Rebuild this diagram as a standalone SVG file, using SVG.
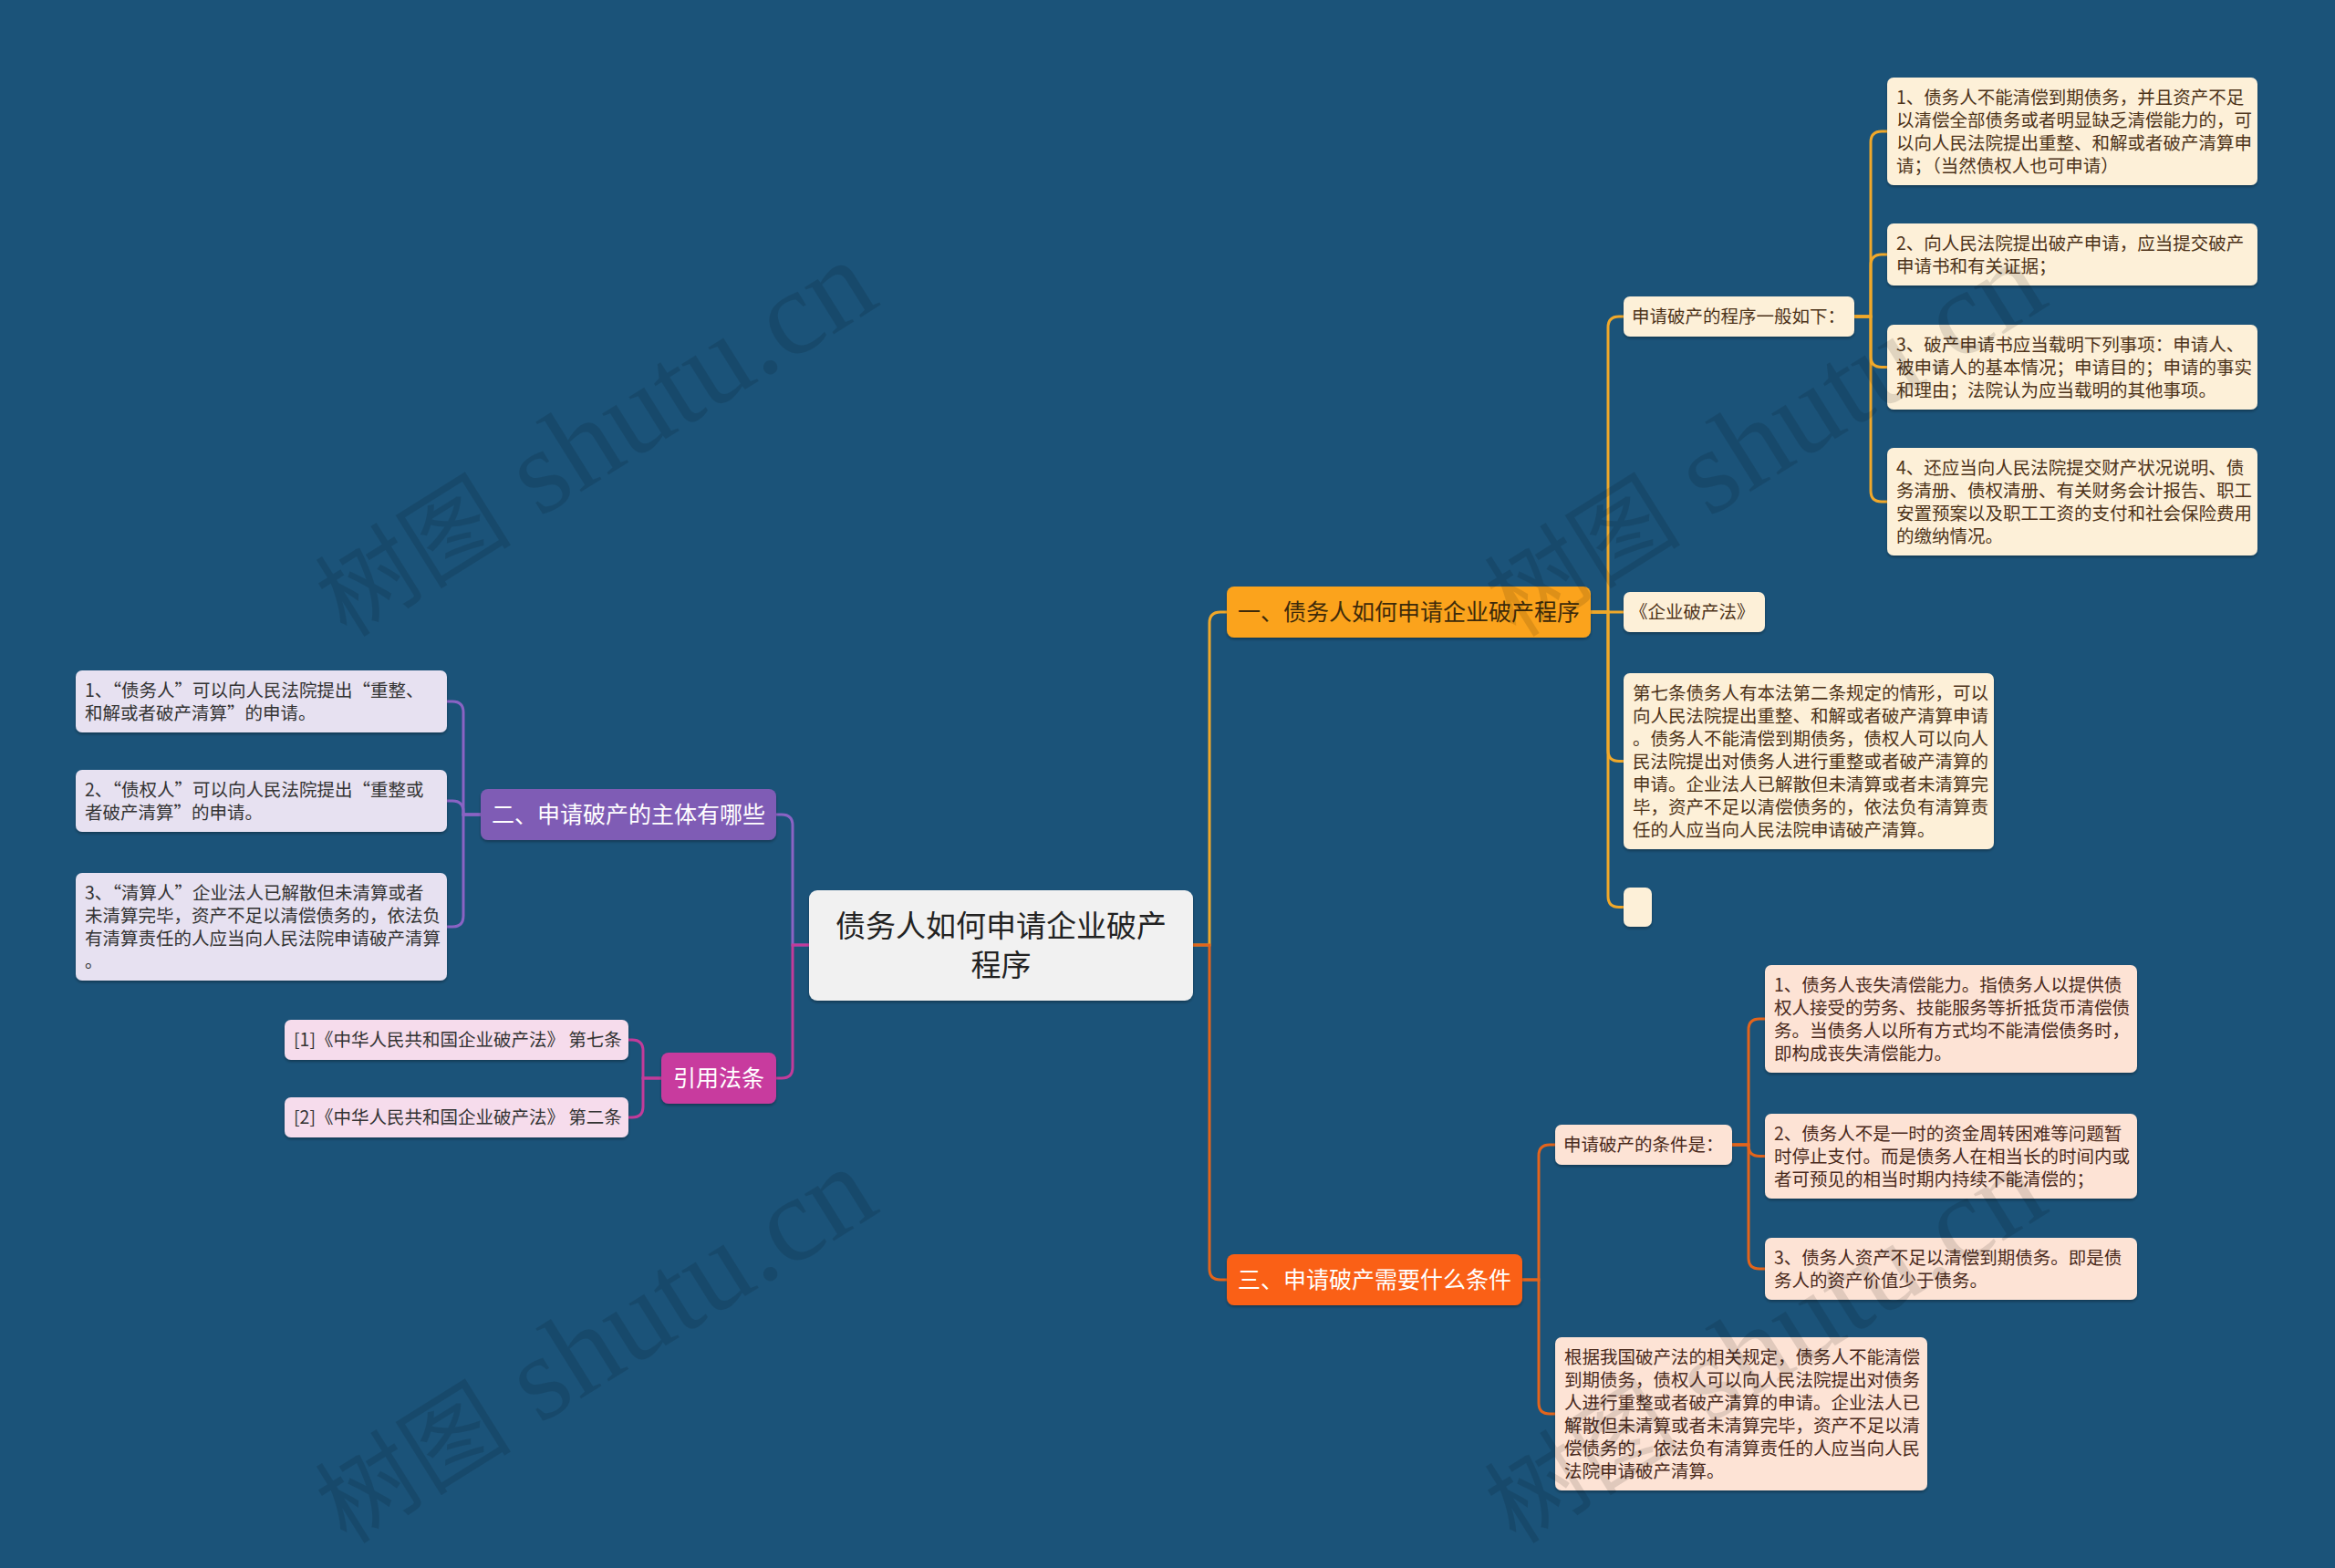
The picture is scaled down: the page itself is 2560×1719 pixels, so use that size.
<svg xmlns="http://www.w3.org/2000/svg" width="2560" height="1719" viewBox="0 0 2560 1719">
<defs>
<filter id="sh" x="-5%" y="-10%" width="110%" height="130%"><feDropShadow dx="0" dy="2" stdDeviation="1.5" flood-color="#000" flood-opacity="0.3"/></filter>
</defs>
<style>
text{font-family:"Noto Sans CJK SC","Noto Sans",sans-serif;}
.s{font-size:19.5px;}
.b{font-size:25px;}
.c{font-size:33px;fill:#222;}
.cream{fill:#fdf0d8;}
.peach{fill:#fde3d5;}
.lav{fill:#e7e1f1;}
.pink{fill:#f6dcec;}
.tb{fill:#4d3319;}
.tp{fill:#4a2a1c;}
.td{fill:#333;}
.w{fill:#fff;}
.ln{fill:none;stroke-width:3;}
.wm{font-family:"Liberation Serif","DejaVu Serif","Noto Sans CJK SC",serif;fill:#000;opacity:0.11;}
.wc{font-size:108px;}
.wl{font-size:132px;}
</style>
<rect width="2560" height="1719" fill="#1b5379"/>

<g id="connectors">
<g class="ln" stroke="#f0a82a">
<path d="M1308 1036 H1326 V683 Q1326 671 1338 671 H1345"/>
<path d="M1744 671 H1763 V359 Q1763 347 1775 347 H1780"/>
<path d="M1744 671 H1780"/>
<path d="M1744 671 H1763 V822.5 Q1763 834.5 1775 834.5 H1780"/>
<path d="M1744 671 H1763 V982.5 Q1763 994.5 1775 994.5 H1780"/>
<path d="M2033 347 H2051 V156 Q2051 144 2063 144 H2069"/>
<path d="M2033 347 H2051 V291 Q2051 279 2063 279 H2069"/>
<path d="M2033 347 H2051 V390.5 Q2051 402.5 2063 402.5 H2069"/>
<path d="M2033 347 H2051 V538 Q2051 550 2063 550 H2069"/>
</g>
<g class="ln" stroke="#e2641c">
<path d="M1308 1036 H1326 V1391 Q1326 1403 1338 1403 H1345"/>
<path d="M1669 1403 H1687 V1267 Q1687 1255 1699 1255 H1705"/>
<path d="M1669 1403 H1687 V1538 Q1687 1550 1699 1550 H1705"/>
<path d="M1899 1255 H1917 V1129 Q1917 1117 1929 1117 H1935"/>
<path d="M1899 1255 H1917 V1255.5 Q1917 1267.5 1929 1267.5 H1935"/>
<path d="M1899 1255 H1917 V1379 Q1917 1391 1929 1391 H1935"/>
</g>
<g class="ln" stroke="#8a63c4">
<path d="M887 1036 H869 V905 Q869 893 857 893 H851"/>
<path d="M527 893 H508 V781 Q508 769 496 769 H490"/>
<path d="M527 893 H508 V890 Q508 878 496 878 H490"/>
<path d="M527 893 H508 V1004 Q508 1016 496 1016 H490"/>
</g>
<g class="ln" stroke="#c23b9a">
<path d="M887 1036 H869 V1170 Q869 1182 857 1182 H851"/>
<path d="M725 1182 H705 V1152 Q705 1140 693 1140 H689"/>
<path d="M725 1182 H705 V1213 Q705 1225 693 1225 H689"/>
</g>
</g>

<g id="root">
<rect x="887" y="976" width="421" height="121" rx="9" fill="#f1f1f1" filter="url(#sh)"/>
<text class="c" text-anchor="middle"><tspan x="1097.5" y="1027">债务人如何申请企业破产</tspan><tspan x="1097.5" y="1070">程序</tspan></text>
</g>

<g id="branch1">
<rect x="1345" y="643" width="399" height="56" rx="8" fill="#fba31c" filter="url(#sh)"/>
<text class="b" fill="#3d2a0a" x="1544.5" y="680" text-anchor="middle">一、债务人如何申请企业破产程序</text>
</g>
<g id="b1-proc">
<rect class="cream" x="1780" y="325" width="253" height="44" rx="7" filter="url(#sh)"/>
<text class="s tb" x="1789" y="354">申请破产的程序一般如下：</text>
</g>
<g id="b1-proc-1">
<rect class="cream" x="2069" y="85" width="406" height="118" rx="7" filter="url(#sh)"/>
<text class="s tb"><tspan x="2079" y="113.5">1、债务人不能清偿到期债务，并且资产不足</tspan><tspan x="2079" y="138.5">以清偿全部债务或者明显缺乏清偿能力的，可</tspan><tspan x="2079" y="163.5">以向人民法院提出重整、和解或者破产清算申</tspan><tspan x="2079" y="188.5">请；（当然债权人也可申请）</tspan></text>
</g>
<g id="b1-proc-2">
<rect class="cream" x="2069" y="245" width="406" height="68" rx="7" filter="url(#sh)"/>
<text class="s tb"><tspan x="2079" y="273.5">2、向人民法院提出破产申请，应当提交破产</tspan><tspan x="2079" y="298.5">申请书和有关证据；</tspan></text>
</g>
<g id="b1-proc-3">
<rect class="cream" x="2069" y="356" width="406" height="93" rx="7" filter="url(#sh)"/>
<text class="s tb"><tspan x="2079" y="384.5">3、破产申请书应当载明下列事项：申请人、</tspan><tspan x="2079" y="409.5">被申请人的基本情况；申请目的；申请的事实</tspan><tspan x="2079" y="434.5">和理由；法院认为应当载明的其他事项。</tspan></text>
</g>
<g id="b1-proc-4">
<rect class="cream" x="2069" y="491" width="406" height="118" rx="7" filter="url(#sh)"/>
<text class="s tb"><tspan x="2079" y="519.5">4、还应当向人民法院提交财产状况说明、债</tspan><tspan x="2079" y="544.5">务清册、债权清册、有关财务会计报告、职工</tspan><tspan x="2079" y="569.5">安置预案以及职工工资的支付和社会保险费用</tspan><tspan x="2079" y="594.5">的缴纳情况。</tspan></text>
</g>
<g id="b1-law">
<rect class="cream" x="1780" y="649" width="155" height="44" rx="7" filter="url(#sh)"/>
<text class="s tb" x="1787" y="678">《企业破产法》</text>
</g>
<g id="b1-art7">
<rect class="cream" x="1780" y="738" width="406" height="193" rx="7" filter="url(#sh)"/>
<text class="s tb"><tspan x="1790" y="766.5">第七条债务人有本法第二条规定的情形，可以</tspan><tspan x="1790" y="791.5">向人民法院提出重整、和解或者破产清算申请</tspan><tspan x="1790" y="816.5">。债务人不能清偿到期债务，债权人可以向人</tspan><tspan x="1790" y="841.5">民法院提出对债务人进行重整或者破产清算的</tspan><tspan x="1790" y="866.5">申请。企业法人已解散但未清算或者未清算完</tspan><tspan x="1790" y="891.5">毕，资产不足以清偿债务的，依法负有清算责</tspan><tspan x="1790" y="916.5">任的人应当向人民法院申请破产清算。</tspan></text>
</g>
<g id="b1-empty">
<rect class="cream" x="1780" y="973" width="31" height="43" rx="7" filter="url(#sh)"/>
</g>

<g id="branch3">
<rect x="1345" y="1375" width="324" height="56" rx="8" fill="#fa6014" filter="url(#sh)"/>
<text class="b w" x="1507" y="1412" text-anchor="middle">三、申请破产需要什么条件</text>
</g>
<g id="b3-cond">
<rect class="peach" x="1705" y="1233" width="194" height="44" rx="7" filter="url(#sh)"/>
<text class="s tp" x="1714" y="1262">申请破产的条件是：</text>
</g>
<g id="b3-cond-1">
<rect class="peach" x="1935" y="1058" width="408" height="118" rx="7" filter="url(#sh)"/>
<text class="s tp"><tspan x="1945" y="1086.5">1、债务人丧失清偿能力。指债务人以提供债</tspan><tspan x="1945" y="1111.5">权人接受的劳务、技能服务等折抵货币清偿债</tspan><tspan x="1945" y="1136.5">务。当债务人以所有方式均不能清偿债务时，</tspan><tspan x="1945" y="1161.5">即构成丧失清偿能力。</tspan></text>
</g>
<g id="b3-cond-2">
<rect class="peach" x="1935" y="1221" width="408" height="93" rx="7" filter="url(#sh)"/>
<text class="s tp"><tspan x="1945" y="1249.5">2、债务人不是一时的资金周转困难等问题暂</tspan><tspan x="1945" y="1274.5">时停止支付。而是债务人在相当长的时间内或</tspan><tspan x="1945" y="1299.5">者可预见的相当时期内持续不能清偿的；</tspan></text>
</g>
<g id="b3-cond-3">
<rect class="peach" x="1935" y="1357" width="408" height="68" rx="7" filter="url(#sh)"/>
<text class="s tp"><tspan x="1945" y="1385.5">3、债务人资产不足以清偿到期债务。即是债</tspan><tspan x="1945" y="1410.5">务人的资产价值少于债务。</tspan></text>
</g>
<g id="b3-law">
<rect class="peach" x="1705" y="1466" width="408" height="168" rx="7" filter="url(#sh)"/>
<text class="s tp"><tspan x="1715" y="1494.5">根据我国破产法的相关规定，债务人不能清偿</tspan><tspan x="1715" y="1519.5">到期债务，债权人可以向人民法院提出对债务</tspan><tspan x="1715" y="1544.5">人进行重整或者破产清算的申请。企业法人已</tspan><tspan x="1715" y="1569.5">解散但未清算或者未清算完毕，资产不足以清</tspan><tspan x="1715" y="1594.5">偿债务的，依法负有清算责任的人应当向人民</tspan><tspan x="1715" y="1619.5">法院申请破产清算。</tspan></text>
</g>

<g id="branch2">
<rect x="527" y="865" width="324" height="56" rx="8" fill="#7f5bb5" filter="url(#sh)"/>
<text class="b w" x="689" y="902" text-anchor="middle">二、申请破产的主体有哪些</text>
</g>
<g id="b2-1">
<rect class="lav" x="83" y="735" width="407" height="68" rx="7" filter="url(#sh)"/>
<text class="s td"><tspan x="93" y="763.5">1、“债务人”可以向人民法院提出“重整、</tspan><tspan x="93" y="788.5">和解或者破产清算”的申请。</tspan></text>
</g>
<g id="b2-2">
<rect class="lav" x="83" y="844" width="407" height="68" rx="7" filter="url(#sh)"/>
<text class="s td"><tspan x="93" y="872.5">2、“债权人”可以向人民法院提出“重整或</tspan><tspan x="93" y="897.5">者破产清算”的申请。</tspan></text>
</g>
<g id="b2-3">
<rect class="lav" x="83" y="957" width="407" height="118" rx="7" filter="url(#sh)"/>
<text class="s td"><tspan x="93" y="985.5">3、“清算人”企业法人已解散但未清算或者</tspan><tspan x="93" y="1010.5">未清算完毕，资产不足以清偿债务的，依法负</tspan><tspan x="93" y="1035.5">有清算责任的人应当向人民法院申请破产清算</tspan><tspan x="93" y="1060.5">。</tspan></text>
</g>

<g id="branch4">
<rect x="725" y="1154" width="126" height="56" rx="8" fill="#c83a9e" filter="url(#sh)"/>
<text class="b w" x="788" y="1191" text-anchor="middle">引用法条</text>
</g>
<g id="b4-1">
<rect class="pink" x="312" y="1118" width="377" height="44" rx="7" filter="url(#sh)"/>
<text class="s td" x="322" y="1147">[1]《中华人民共和国企业破产法》 第七条</text>
</g>
<g id="b4-2">
<rect class="pink" x="312" y="1203" width="377" height="44" rx="7" filter="url(#sh)"/>
<text class="s td" x="322" y="1232">[2]《中华人民共和国企业破产法》 第二条</text>
</g>

<g id="watermarks">
<text class="wm" transform="translate(380 700) rotate(-32)"><tspan class="wc">树图</tspan><tspan class="wl"> shutu.cn</tspan></text>
<text class="wm" transform="translate(380 1694) rotate(-32)"><tspan class="wc">树图</tspan><tspan class="wl"> shutu.cn</tspan></text>
<text class="wm" transform="translate(1662 700) rotate(-32)"><tspan class="wc">树图</tspan><tspan class="wl"> shutu.cn</tspan></text>
<text class="wm" transform="translate(1662 1694) rotate(-32)"><tspan class="wc">树图</tspan><tspan class="wl"> shutu.cn</tspan></text>
</g>
</svg>
